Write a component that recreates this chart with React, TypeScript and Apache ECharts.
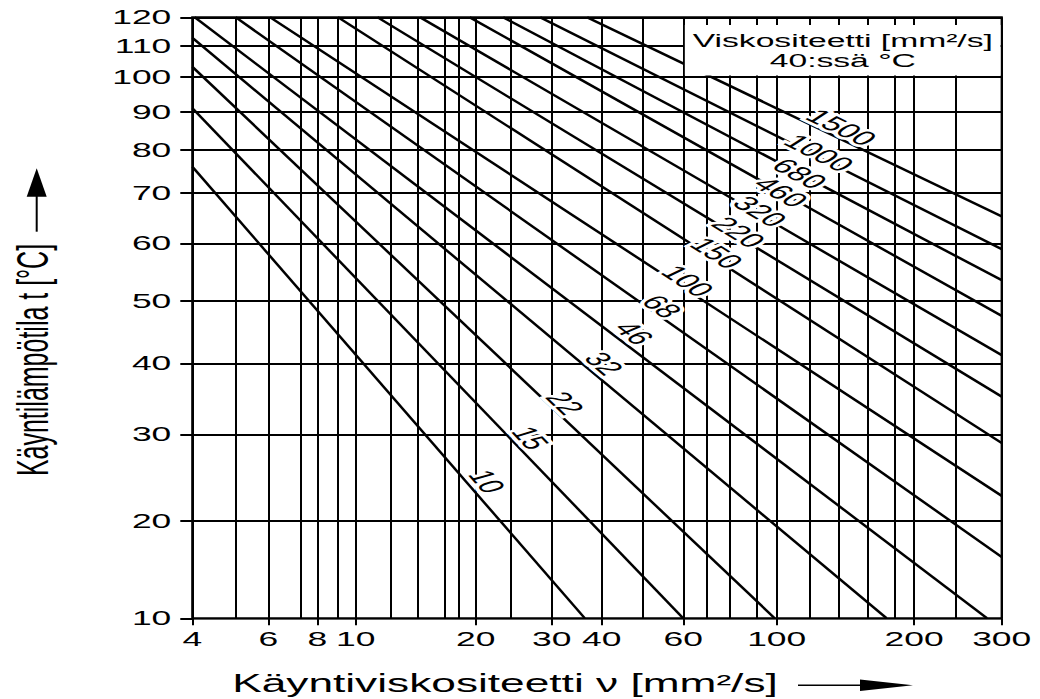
import React, { useEffect, useRef } from 'react';
import * as echarts from 'echarts';

// ISO viscosity grades (mm²/s at 40 °C) and the end points of each grade line
const grades = ['10', '15', '22', '32', '46', '68', '100', '150', '220', '320', '460', '680', '1000', '1500'];
const startVisc = [4, 4, 4, 4, 4.05, 5.0, 6.05, 9.0, 11.2, 14.2, 19.3, 23.8, 28.5, 36.8];
const startTemp = [76.1, 91.0, 103.2, 112.8, 120, 120, 120, 120, 120, 120, 120, 120, 120, 120];
const endVisc = [36.3, 60, 99, 174, 283, 300, 300, 300, 300, 300, 300, 300, 300, 300];
const endTemp = [10, 10, 10, 10, 10, 16.3, 22.9, 29.0, 35.3, 41.3, 47.6, 53.6, 59.0, 65.3];

// Grid values and tick labels
const viscGrid = [4, 5, 6, 7, 8, 9, 10, 12, 14, 16, 18, 20, 25, 30, 40, 50, 60, 70, 80, 90, 100, 120, 140, 160, 180, 200, 250, 300];
const viscTickLabels = [4, 6, 8, 10, 20, 30, 40, 60, 100, 200, 300];
const tempGrid = [10, 20, 30, 40, 50, 60, 70, 80, 90, 100, 110, 120];

// Nomogram scales: fraction of the axis length at each grid value
const viscScale = [0, 0.0536, 0.0939, 0.1339, 0.1544, 0.18, 0.2019, 0.2451, 0.278, 0.3113, 0.3286, 0.3501, 0.3938, 0.444, 0.5058, 0.556, 0.6066, 0.6355, 0.6635, 0.6973, 0.722, 0.7632, 0.799, 0.8344, 0.8673, 0.8917, 0.9435, 1];
const tempScale = [0, 0.1619, 0.3062, 0.4243, 0.528, 0.624, 0.7082, 0.7792, 0.8429, 0.9012, 0.9527, 1];

// Distance (px) of each grade label from its line, measured across the line
const labelLift = [16, 15, 12, 14, 14, 9, 8, 6, 4, 3, 0, 0, 4, 11];

const K = 1.77; // horizontal stretch of the lettering
const FONT = '"Liberation Sans", Arial, Helvetica, sans-serif';

function interp(v: number, knots: number[], pos: number[], logScale: boolean): number {
  let i = 0;
  while (i < knots.length - 2 && v > knots[i + 1]) i++;
  const a = knots[i];
  const b = knots[i + 1];
  const f = logScale ? Math.log(v / a) / Math.log(b / a) : (v - a) / (b - a);
  return pos[i] + f * (pos[i + 1] - pos[i]);
}
const xu = (v: number) => interp(v, viscGrid, viscScale, true);
const yu = (t: number) => interp(t, tempGrid, tempScale, false);

function stretchedText(
  x: number,
  y: number,
  text: string,
  size: number,
  align: string,
  rotation = 0,
  halo = false
): any {
  const base = {
    text,
    x: 0,
    y: 0,
    font: `${size}px ${FONT}`,
    align,
    verticalAlign: 'middle',
  };
  const children: any[] = [];
  if (halo) {
    children.push({
      type: 'text',
      rotation,
      z: 20,
      style: { ...base, fill: '#fff', stroke: '#fff', lineWidth: 5 },
    });
  }
  children.push({ type: 'text', rotation, z: 21, style: { ...base, fill: '#000' } });
  return { type: 'group', x, y, scaleX: K, z: 20, children };
}

export default function App() {
  const ref = useRef<HTMLDivElement>(null);

  useEffect(() => {
    const el = ref.current!;
    const chart = echarts.init(el, null, { renderer: 'svg' });

    const gridSegments = [
      ...viscGrid.map((v) => ({ coords: [[xu(v), 0], [xu(v), 1]] })),
      ...tempGrid.map((t) => ({ coords: [[0, yu(t)], [1, yu(t)]] })),
    ];

    chart.setOption({
      animation: false,
      backgroundColor: '#fff',
      grid: {
        left: 192.3,
        top: 17.3,
        width: 809.4,
        height: 601,
        show: true,
        borderColor: '#000',
        borderWidth: 2.2,
        backgroundColor: 'transparent',
      },
      xAxis: {
        type: 'value',
        min: 0,
        max: 1,
        axisLine: { show: false },
        axisTick: {
          show: true,
          customValues: viscTickLabels.map(xu),
          length: 7,
          lineStyle: { color: '#000', width: 2 },
        },
        axisLabel: { show: false },
        splitLine: { show: false },
      },
      yAxis: {
        type: 'value',
        min: 0,
        max: 1,
        axisLine: { show: false },
        axisTick: {
          show: true,
          customValues: tempGrid.map(yu),
          length: 12,
          lineStyle: { color: '#000', width: 2 },
        },
        axisLabel: { show: false },
        splitLine: { show: false },
      },
      series: [
        {
          type: 'lines',
          coordinateSystem: 'cartesian2d',
          silent: true,
          z: 1,
          lineStyle: { color: '#000', width: 2, opacity: 1 },
          data: gridSegments,
        },
        ...grades.map((g, i) => ({
          type: 'line',
          name: g,
          silent: true,
          z: 3,
          symbol: 'none',
          color: '#000',
          lineStyle: { color: '#000', width: 2.5 },
          data: [
            [xu(startVisc[i]), yu(startTemp[i])],
            [xu(endVisc[i]), yu(endTemp[i])],
          ],
        })),
      ],
    });

    const toPx = (v: number, t: number) =>
      chart.convertToPixel({ gridIndex: 0 }, [xu(v), yu(t)]) as number[];

    const elements: any[] = [];

    // Box behind the viscosity-grade caption
    const [boxLeft] = chart.convertToPixel({ gridIndex: 0 }, [0.6074, 0]) as number[];
    const [gridRight, gridTop] = chart.convertToPixel({ gridIndex: 0 }, [1, 1]) as number[];
    const [, y100] = toPx(4, 100);
    elements.push({
      type: 'rect',
      z: 15,
      shape: { x: boxLeft, y: gridTop + 7.7, width: gridRight - boxLeft - 1.2, height: y100 - gridTop - 8.8 },
      style: { fill: '#fff' },
    });
    elements.push({
      type: 'line',
      z: 16,
      shape: { x1: boxLeft, y1: gridTop, x2: boxLeft, y2: y100 },
      style: { stroke: '#000', lineWidth: 1.8 },
    });
    const capX = (boxLeft + gridRight) / 2;
    elements.push(stretchedText(capX, gridTop + 23, 'Viskositeetti [mm²/s]', 19, 'center'));
    elements.push(stretchedText(capX, gridTop + 43, '40:ssä °C', 19, 'center'));

    // Tick labels
    viscTickLabels.forEach((v) => {
      const [px, py] = toPx(v, 10);
      elements.push(stretchedText(px, py + 21, String(v), 20, 'center'));
    });
    tempGrid.forEach((t) => {
      const [px, py] = toPx(4, t);
      elements.push(stretchedText(px - 21, py, String(t), 20, 'right'));
    });

    // Axis titles and arrows
    const [x4, yBottom] = toPx(4, 10);
    elements.push(stretchedText(505, yBottom + 65, 'Käyntiviskositeetti ν [mm²/s]', 25, 'center'));
    elements.push({
      type: 'line',
      z: 20,
      shape: { x1: 798, y1: yBottom + 67, x2: 866, y2: yBottom + 67 },
      style: { stroke: '#000', lineWidth: 1.6 },
    });
    elements.push({
      type: 'polygon',
      z: 20,
      shape: { points: [[860, yBottom + 61.2], [913, yBottom + 67], [860, yBottom + 72.8]] },
      style: { fill: '#000' },
    });
    elements.push(stretchedText(x4 - 159.5, 360, 'Käyntilämpötila t [°C]', 25, 'center', Math.PI / 2));
    elements.push({
      type: 'line',
      z: 20,
      shape: { x1: 36.7, y1: 195, x2: 36.7, y2: 231.7 },
      style: { stroke: '#000', lineWidth: 2 },
    });
    elements.push({
      type: 'polygon',
      z: 20,
      shape: { points: [[26.7, 196.7], [46.7, 196.7], [36.7, 168.3]] },
      style: { fill: '#000' },
    });

    // Grade labels: placed where each line meets a diagonal guide, lifted off the line
    const g1 = [477, 490];
    const g2 = [837, 137];
    grades.forEach((g, i) => {
      const p1 = toPx(startVisc[i], startTemp[i]);
      const p2 = toPx(endVisc[i], endTemp[i]);
      const dx = p2[0] - p1[0];
      const dy = p2[1] - p1[1];
      const ex = g2[0] - g1[0];
      const ey = g2[1] - g1[1];
      const den = dx * ey - dy * ex;
      const a = ((g1[0] - p1[0]) * ey - (g1[1] - p1[1]) * ex) / den;
      const fx = p1[0] + a * dx;
      const fy = p1[1] + a * dy;
      const s = dy / dx;
      const nl = Math.sqrt(1 + s * s);
      const d = labelLift[i];
      const cx = fx + (d * s) / nl;
      const cy = fy - d / nl;
      elements.push(stretchedText(cx, cy, g, 20, 'center', -Math.atan(s * K), true));
    });

    chart.setOption({ graphic: elements });

    return () => chart.dispose();
  }, []);

  return (
    <div
      ref={ref}
      style={{ position: 'fixed', left: 0, top: 0, width: 1040, height: 699, background: '#fff' }}
    />
  );
}
